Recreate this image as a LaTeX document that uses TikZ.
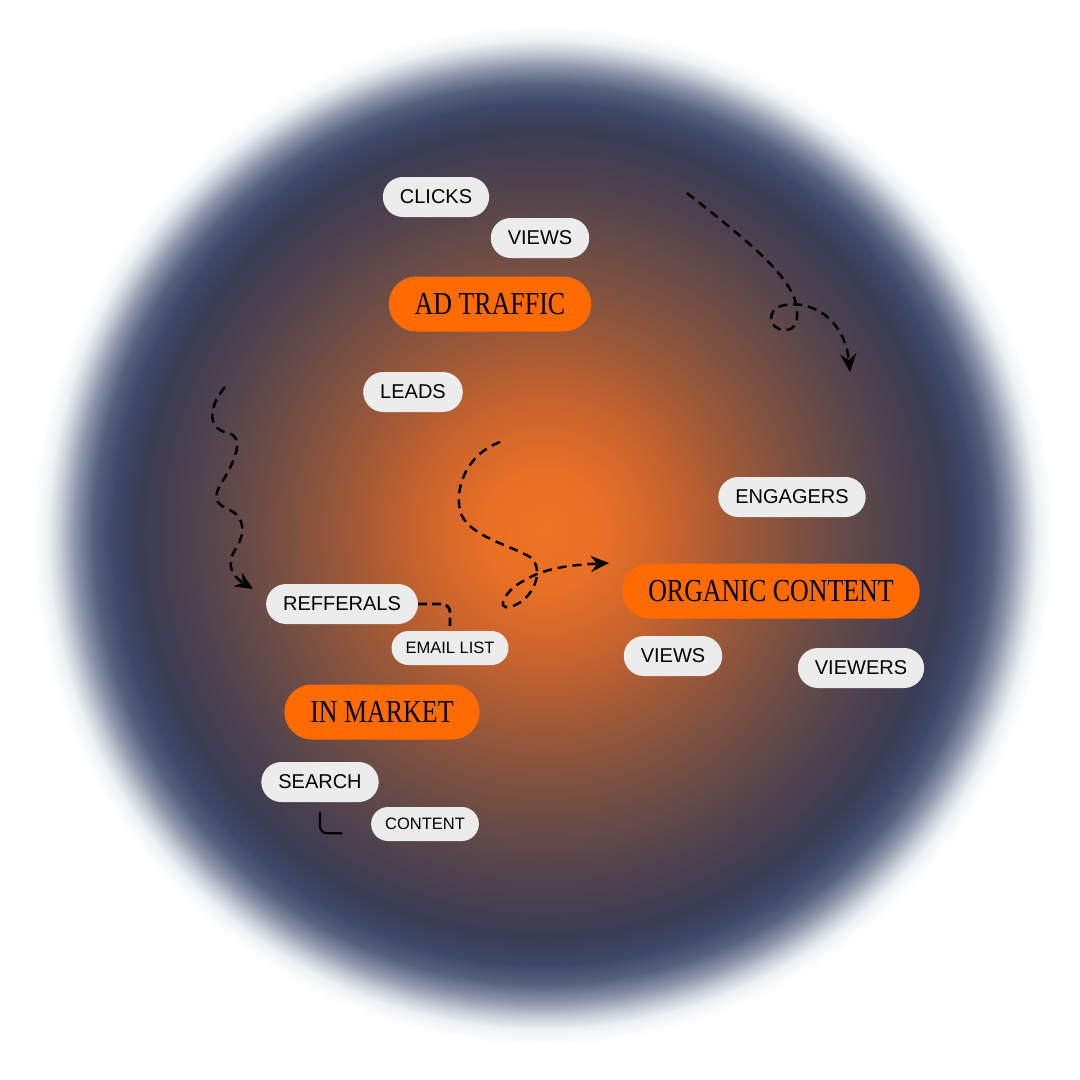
\documentclass[tikz,border=0pt]{standalone}
\usepackage{fontspec}
\setmainfont{Liberation Serif}
\setsansfont{Liberation Sans}
\usetikzlibrary{arrows.meta}
\definecolor{g0}{HTML}{EF7323}
\definecolor{g1}{HTML}{E86F26}
\definecolor{g2}{HTML}{C8632E}
\definecolor{g3}{HTML}{9C5838}
\definecolor{g4}{HTML}{7A5042}
\definecolor{g5}{HTML}{5C474A}
\definecolor{g6}{HTML}{473F50}
\definecolor{g7}{HTML}{3A3D55}
\definecolor{g8}{HTML}{3D4868}
\definecolor{g9}{HTML}{55617E}
\definecolor{g10}{HTML}{8C95AA}
\definecolor{g11}{HTML}{C8CED8}
\definecolor{g12}{HTML}{EEF1F4}
\definecolor{pillgray}{HTML}{ECECEC}
\definecolor{hotorange}{HTML}{FF6B00}
\pgfdeclareradialshading{glow}{\pgfpoint{0.23bp}{0.46bp}}{%
color(0bp)=(g0); color(2.78bp)=(g1); color(6.02bp)=(g2); color(9.26bp)=(g3);
color(12.04bp)=(g4); color(14.81bp)=(g5); color(17.13bp)=(g6); color(18.75bp)=(g7);
color(19.91bp)=(g8); color(20.83bp)=(g9); color(21.67bp)=(g10); color(22.36bp)=(g11);
color(22.92bp)=(g12); color(23.61bp)=(white); color(50bp)=(white)}
\tikzset{
  pill/.style={rectangle, fill=pillgray, rounded corners=20pt, minimum height=40pt,
    inner xsep=17pt, inner ysep=0pt, text=black, font=\sffamily\fontsize{20}{20}\selectfont},
  smallpill/.style={pill, rounded corners=17pt, minimum height=34pt, inner xsep=14pt,
    font=\sffamily\fontsize{16.5}{16.5}\selectfont},
  hub/.style={rectangle, fill=hotorange, rounded corners=27.5pt, minimum height=55pt,
    inner xsep=26pt, inner ysep=0pt, text=black, font=\rmfamily\fontsize{32}{32}\selectfont},
  conn/.style={draw=black, line width=2.5pt, dash pattern=on 9pt off 6pt},
  tip/.style={-{Stealth[length=18pt,width=16pt,inset=6pt]}},
}
\newcommand{\cond}[1]{\scalebox{0.81}[1]{#1}}
\begin{document}
\begin{tikzpicture}[x=1pt,y=-1pt]
\useasboundingbox (0,0) rectangle (1080,1080);
\shade[shading=glow] (0,0) rectangle (1080,1080);

% nodes
\node[pill] (clicks) at (436,197) {CLICKS};
\node[pill] (views1) at (540,238) {VIEWS};
\node[hub] (ad) at (490,304) {\cond{AD TRAFFIC}};
\node[pill] (leads) at (413,392) {LEADS};
\node[pill] (eng) at (792,497) {ENGAGERS};
\node[hub] (org) at (771,591) {\cond{ORGANIC CONTENT}};
\node[pill] (views2) at (673,656) {VIEWS};
\node[pill] (viewers) at (861,668) {VIEWERS};
\node[pill] (ref) at (342,604) {REFFERALS};
\node[smallpill] (email) at (450,648) {EMAIL LIST};
\node[hub] (mkt) at (382,712) {\cond{IN MARKET}};
\node[pill] (search) at (320,782) {SEARCH};
\node[smallpill] (content) at (425,824) {CONTENT};

% free ends of the dashed paths
\coordinate (trs) at (687,193);
\coordinate (tre) at (850,372);
\coordinate (ls) at (225,387);
\coordinate (le) at (253,589);
\coordinate (cs) at (500,442);
\coordinate (ce) at (609,563);

% top-right looping arrow
\draw[conn,tip] (trs) .. controls (740,235) and (785,270) .. (795,300)
  .. controls (800,320) and (796,330) .. (785,330)
  .. controls (768,330) and (765,308) .. (785,305)
  .. controls (815,300) and (845,322) .. (tre);

% left wiggly arrow
\draw[conn,tip] (ls) .. controls (210,405) and (205,428) .. (228,433)
  .. controls (242,437) and (238,450) .. (230,468)
  .. controls (220,488) and (205,500) .. (230,510)
  .. controls (246,518) and (245,535) .. (235,550)
  .. controls (226,565) and (232,576) .. (le);

% central S-curve arrow
\draw[conn,tip] (cs) .. controls (465,455) and (455,490) .. (460,510)
  .. controls (465,535) and (510,545) .. (530,557)
  .. controls (545,568) and (535,600) .. (510,607)
  .. controls (495,610) and (505,590) .. (525,580)
  .. controls (545,568) and (570,565) .. (ce);

% refferals to email list
\draw[draw=black, line width=2.8pt, dash pattern=on 9pt off 5pt, rounded corners=8pt]
  (ref.east) -| ([yshift=5pt]email.north);

% search to content
\draw[black, line width=2.2pt, rounded corners=7pt]
  ([yshift=-10pt]search.south) |- ++(22,21);
\end{tikzpicture}
\end{document}
